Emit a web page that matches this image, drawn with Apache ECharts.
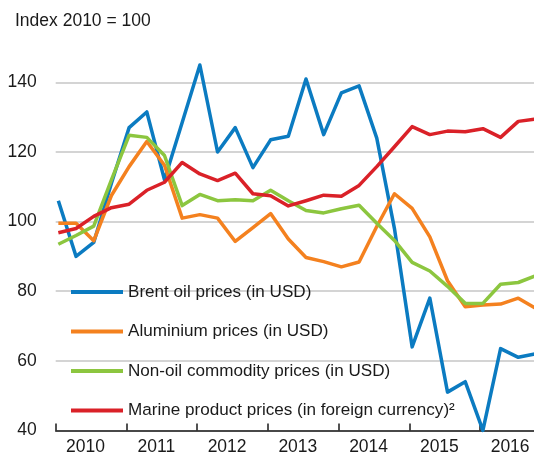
<!DOCTYPE html>
<html>
<head>
<meta charset="utf-8">
<script src="https://cdn.jsdelivr.net/npm/echarts@6/dist/echarts.min.js"></script>
<style>
  html, body { margin: 0; padding: 0; background: #fff; overflow: hidden; }
  /* plot area runs past the right edge of the picture, as in the original */
  #chart { width: 551px; height: 458px; }
</style>
</head>
<body>
<div id="chart"></div>
<script>
// years on the axis, one point per quarter (2010 Q1 .. 2016 Q4)
const years = ["2010", "2011", "2012", "2013", "2014", "2015", "2016"];
const yTicks = [40, 60, 80, 100, 120, 140];

const brent = [106, 90, 94, 111, 127, 131.5, 112, 128.5, 145, 120, 127, 115.5, 123.5, 124.5,
               141, 125, 137, 139, 124, 98, 64, 78, 51, 54, 40, 63.5, 61, 62];
const aluminium = [99.5, 99.5, 94.5, 107.5, 115.8, 123, 116.2, 101, 102, 101, 94.3, 98.3, 102.3, 95,
                   89.7, 88.5, 87, 88.4, 98.6, 108, 103.8, 95.6, 83, 75.5, 76, 76.3, 78, 75];
const nonOil = [93.5, 96, 98.7, 112, 124.8, 124.2, 119, 104.6, 107.8, 106, 106.3, 106, 109, 106,
                103.2, 102.5, 103.7, 104.7, 99.5, 94.6, 88.3, 85.8, 81.4, 76.5, 76.5, 82, 82.5, 84.5];
const marine = [96.8, 98, 101.5, 104, 105, 109, 111.3, 117, 113.7, 111.8, 113.9, 108, 107.4, 104.5,
                106, 107.6, 107.3, 110.4, 115.8, 121.5, 127.3, 125, 126, 125.8, 126.7, 124.2, 128.8, 129.5];

const names = [
    "Brent oil prices (in USD)",
    "Aluminium prices (in USD)",
    "Non-oil commodity prices (in USD)",
    "Marine product prices (in foreign currency)\u00B2"
];
const colors = ["#0b7bc1", "#f4811f", "#8cc63f", "#da2128"];

const font = "'Liberation Sans', Arial, sans-serif";
const fs = 17.5;

function toPairs(arr) {
    return arr.map((v, i) => [i, v]);
}

const chart = echarts.init(document.getElementById('chart'), null, { renderer: 'canvas' });

chart.setOption({
    animation: false,
    backgroundColor: '#fff',
    title: {
        text: "Index 2010 = 100",
        left: 15,
        top: 12,
        padding: 0,
        textStyle: { fontFamily: font, fontSize: fs, fontWeight: 'normal', color: '#1a1a1a' }
    },
    legend: {
        orient: 'vertical',
        left: 71,
        top: 283,
        padding: 0,
        itemGap: 21.5,
        itemWidth: 52,
        itemHeight: 4,
        icon: 'rect',
        data: names,
        textStyle: { fontFamily: font, fontSize: 17.1, lineHeight: 18, color: '#1a1a1a' }
    },
    grid: {
        left: 55.7,
        right: 0,
        top: 82.4,
        bottom: 27.6,
        containLabel: false
    },
    xAxis: [
        {
            type: 'category',
            data: years,
            boundaryGap: true,
            position: 'bottom',
            axisLine: { show: true, lineStyle: { color: '#1a1a1a', width: 1.5 } },
            axisTick: { show: true, inside: true, length: 7, interval: 0, lineStyle: { color: '#1a1a1a', width: 1.5 } },
            axisLabel: { fontFamily: font, fontSize: fs, color: '#1a1a1a', margin: 8, interval: 0, padding: [0, 11, 0, 0] },
            splitLine: { show: false }
        },
        {
            type: 'value',
            min: -0.15,
            max: 27.85,
            show: false
        }
    ],
    yAxis: {
        type: 'value',
        min: yTicks[0],
        max: yTicks[yTicks.length - 1],
        interval: 20,
        axisLine: { show: false },
        axisTick: { show: false },
        axisLabel: { fontFamily: font, fontSize: fs, color: '#1a1a1a', margin: 19 },
        splitLine: { show: true, lineStyle: { color: '#c6c6c6', width: 1.5 } }
    },
    series: [brent, aluminium, nonOil, marine].map((arr, k) => ({
        name: names[k],
        type: 'line',
        xAxisIndex: 1,
        data: toPairs(arr),
        showSymbol: false,
        symbol: 'none',
        clip: false,
        color: colors[k],
        lineStyle: { color: colors[k], width: 3.5, join: 'round' }
    }))
});
</script>
</body>
</html>
